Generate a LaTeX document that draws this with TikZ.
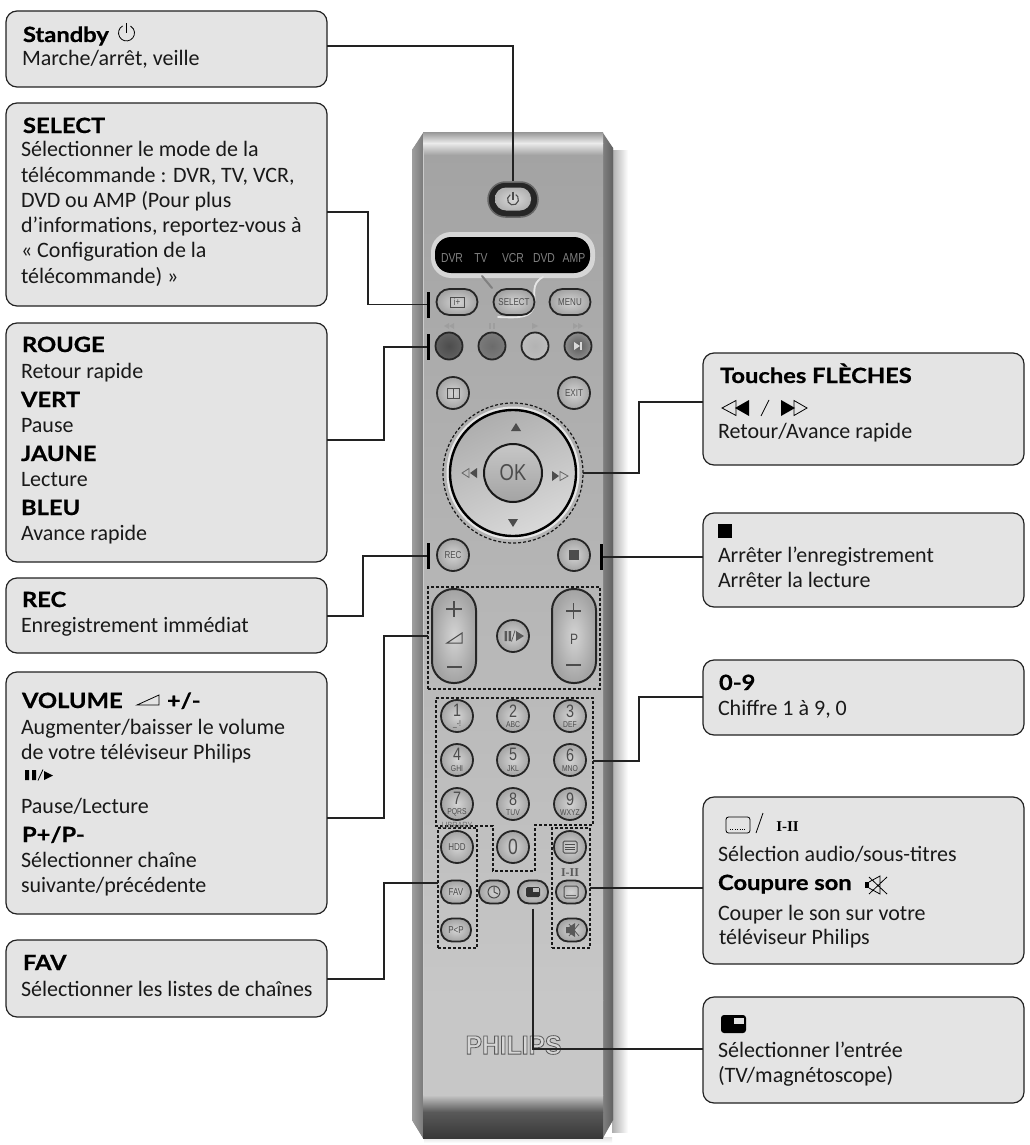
\documentclass[tikz,border=0pt]{standalone}
\usepackage{fontspec}
\setmainfont{Carlito}
\newfontfamily\hdf[FakeStretch=1.13,BoldFeatures={FakeStretch=1.13,FakeBold=0.7}]{Lato}
\newfontfamily\btnf[FakeStretch=0.8]{Liberation Sans}
\newfontfamily\brandf[FakeStretch=0.93]{Liberation Sans}
\newfontfamily\serf{Liberation Serif}
\definecolor{linecol}{HTML}{222222}
\definecolor{boxfill}{HTML}{E4E4E4}
\definecolor{btntx}{HTML}{4C4C4C}
\tikzset{
  callout/.style={draw=linecol,fill=boxfill,line width=1.2pt,rounded corners=11pt,inner sep=0pt,outer sep=0pt},
  tx/.style={anchor=base west,inner sep=0pt,outer sep=0pt,text=black!90,font=\fontsize{22}{24}\selectfont},
  hd/.style={anchor=base west,inner sep=0pt,outer sep=0pt,text=black,font=\hdf\bfseries\fontsize{21}{24}\selectfont},
  conn/.style={draw=linecol,line width=1.3pt},
  tickbar/.style={fill=black,inner sep=0pt,outer sep=0pt,minimum width=3pt,minimum height=26pt},
  grp/.style={draw=black!90,line width=1.2pt,dash pattern=on 3pt off 2pt,inner sep=0pt,outer sep=0pt},
  keybase/.style={draw=black!85,line width=1.8pt,inner sep=0pt,outer sep=0pt,align=center,text=btntx,inner color=black!17,outer color=black!36,font=\btnf\fontsize{10}{10}\selectfont},
  rbtn/.style={keybase,circle,minimum size=32pt},
  cbtn/.style={keybase,circle,minimum size=27pt},
  sbtn/.style={keybase,rectangle,rounded corners=13pt,minimum width=41pt,minimum height=26pt},
  obtn/.style={keybase,rectangle,rounded corners=11pt,minimum width=30pt,minimum height=23pt},
  pill/.style={keybase,rectangle,rounded corners=21.5pt,minimum width=44pt,minimum height=94pt,line width=2pt},
  ico/.style={draw=black,line width=0.8pt},
  kico/.style={draw=btntx,line width=1pt},
  disptx/.style={text=black!50,font=\btnf\fontsize{13}{13}\selectfont,inner sep=0pt},
  toptx/.style={text=white!62!black,font=\btnf\fontsize{9}{9}\selectfont,inner sep=0pt},
}
\newcommand\cbox[5]{\node[callout,minimum width={(#4-#2)*1pt},minimum height={(#5-#3)*1pt}] (#1) at ({(#2+#4)/2},{(#3+#5)/2}) {};}
\newcommand\Tx[4]{\node[tx] (#1) at (#2,#3) {#4};}
\newcommand\Hd[4]{\node[hd] (#1) at (#2,#3) {#4};}
\newcommand\dg[2]{{\fontsize{18}{13}\selectfont #1}\\[0.5pt]{\fontsize{8.5}{7}\selectfont #2}}
\begin{document}
\begin{tikzpicture}[x=1pt,y=-1pt]
\useasboundingbox (0,0) rectangle (1029,1145);
\fill[white] (0,0) rectangle (1029,1145);

% ---------- remote body
\shade[left color=black!32,right color=white] (612,150) rectangle (628,1132);
\shade[top color=black!12,bottom color=white] (424,1137) rectangle (612,1143);
\fill[black!45] (424,133) -- (601,133) -- (613,148) -- (613,1120) -- (602,1138) -- (423,1138) -- (412,1120) -- (412,150) -- cycle;
\shade[left color=black!38,right color=black!52] (412,150) -- (423,133) -- (423,1138) -- (412,1120) -- cycle;
\shade[left color=black!50,right color=black!62] (603,133) -- (613,148) -- (613,1120) -- (603,1138) -- cycle;
\shade[top color=black!36,bottom color=black!22] (423,155) rectangle (603,1000);
\shade[top color=black!22,bottom color=black!22] (423,1000) rectangle (603,1095);
\shade[top color=black!38,bottom color=black!8] (423,133) rectangle (603,143);
\shade[top color=black!8,bottom color=black!36] (423,143) rectangle (603,155);
\shade[top color=black!22,bottom color=black!65] (423,1095) rectangle (603,1112);
\shade[top color=black!65,bottom color=black!78] (423,1112) rectangle (603,1138);
\draw[white!80!black,line width=0.8pt] (423,150) -- (423,1095);

% ---------- display and power
\node[rectangle,rounded corners=17.5pt,fill=black!85,draw=black!60,line width=1.5pt,minimum width=50pt,minimum height=35pt,inner sep=0pt] (btnPower) at (513,199.5) {};
\node[keybase,draw=none,rectangle,rounded corners=11pt,inner color=black!15,outer color=black!30,minimum width=36pt,minimum height=23pt] (btnPowerTop) at (513,199) {};
\draw[kico,line width=1.1pt] (510.25,194.7) arc[start angle=120,end angle=420,radius=5.5pt];
\draw[kico,line width=1.1pt] (513,191.5) -- (513,199.5);

\fill[black!16] (431,232) [rounded corners=20pt] rectangle (595,278);
\draw[white!90!black,line width=1.8pt,line cap=round] (543,277) .. controls (530,284) and (536,295) .. (534,305) .. controls (532,318) and (520,318) .. (498,317);
\draw[black!50,line width=2pt,line cap=round] (482,276) -- (492,288);
\node[rectangle,rounded corners=16pt,fill=black,minimum width=155pt,minimum height=36pt,inner sep=0pt] (disp) at (512.5,255) {};
\node[disptx] (dDVR) at (452,258) {DVR};
\node[disptx] (dTV) at (481,258) {TV};
\node[disptx] (dVCR) at (513,258) {VCR};
\node[disptx] (dDVD) at (544,258) {DVD};
\node[disptx] (dAMP) at (574,258) {AMP};

\node[sbtn] (btnInfo) at (457,302) {i+};
\draw[kico] (450,297) rectangle (464,307);
\node[sbtn] (btnSelect) at (514,302) {SELECT};
\node[sbtn] (btnMenu) at (570,302) {MENU};

% ---------- coloured keys
\node[toptx] (tRew) at (449,326) {\tikz[x=1pt,y=-1pt]{\fill (0,0) -- (5,-3) -- (5,3) -- cycle; \fill (5,0) -- (10,-3) -- (10,3) -- cycle;}};
\node[toptx] (tPause) at (492,326) {\tikz[x=1pt,y=-1pt]{\fill (0,-3) rectangle (2,3); \fill (4,-3) rectangle (6,3);}};
\node[toptx] (tPlay) at (535,326) {\tikz[x=1pt,y=-1pt]{\fill (0,-3) -- (6,0) -- (0,3) -- cycle;}};
\node[toptx] (tFwd) at (578,326) {\tikz[x=1pt,y=-1pt]{\fill (0,-3) -- (5,0) -- (0,3) -- cycle; \fill (5,-3) -- (10,0) -- (5,3) -- cycle;}};
\node[cbtn,inner color=black!70,outer color=black!62] (btnRed) at (449,346) {};
\node[cbtn,inner color=black!58,outer color=black!52] (btnGreen) at (492,346) {};
\node[cbtn,inner color=black!30,outer color=black!26] (btnYellow) at (535,346) {};
\node[cbtn,inner color=black!64,outer color=black!45] (btnBlue) at (578,346) {};
\fill[white!85!black] (574,342) -- (580,346) -- (574,350) -- cycle;
\fill[white!85!black] (580,342) rectangle (582,350);

\node[rbtn] (btnGuide) at (453,393) {};
\draw[kico] (447,388) rectangle (459,398);
\draw[kico] (453,388) -- (453,398);
\node[rbtn] (btnExit) at (574,393) {EXIT};

% ---------- navigation pad
\node[circle,grp,minimum size=140pt] (pad) at (513,473) {};
\node[circle,fill=black!10,minimum size=133pt,inner sep=0pt] (padRim) at (513,473) {};
\node[circle,draw=black,line width=2.4pt,minimum size=126pt,inner sep=0pt,top color=black!32,bottom color=black!15,shading angle=25] (padDisc) at (513,473) {};
\node[circle,draw=black!90,line width=2pt,minimum size=58pt,inner sep=0pt,top color=black!22,bottom color=black!36,text=black!70,font=\btnf\fontsize{23}{23}\selectfont] (btnOK) at (513,473) {OK};
\fill[black!70] (516,423) -- (521,431) -- (511,431) -- cycle;
\fill[black!70] (513,527) -- (508,519) -- (518,519) -- cycle;
\fill[black!70] (470,473) -- (477,468) -- (477,478) -- cycle;
\draw[black!60,line width=0.8pt] (462,473) -- (469,468.5) -- (469,477.5) -- cycle;
\fill[black!70] (552,471) -- (552,481) -- (559,476) -- cycle;
\draw[black!60,line width=0.8pt] (560,471.5) -- (560,480.5) -- (568,476) -- cycle;

\node[rbtn] (btnRec) at (453,555) {REC};
\node[rbtn] (btnStop) at (574,555) {};
\fill[black!70] (569,550) rectangle (579,560);

% ---------- volume / programme
\node[grp,rectangle,minimum width=172pt,minimum height=102pt] (gVol) at (514,638) {};
\node[pill] (btnVol) at (454,636) {};
\node[pill] (btnProg) at (574,636) {};
\draw[kico,line width=1.5pt] (446,609) -- (462,609) (454,601) -- (454,617);
\draw[kico,line width=1.5pt] (447,667) -- (462,667);
\draw[kico] (447,643) -- (462,633) -- (462,643) -- cycle;
\draw[kico,line width=1.5pt] (566,611) -- (581,611) (573.5,603) -- (573.5,619);
\draw[kico,line width=1.5pt] (566,665) -- (581,665);
\node[text=btntx,inner sep=0pt,font=\btnf\fontsize{15}{15}\selectfont] (tP) at (574,639) {P};
\node[rbtn] (btnPause) at (513,636) {};
\fill[black!65] (504.5,631) rectangle (507,641) (508.5,631) rectangle (511,641);
\draw[black!65,line width=0.8pt] (511.5,641.5) -- (515,630.5);
\fill[black!65] (516,631) -- (524,636) -- (516,641) -- cycle;

% ---------- digits
\draw[grp] (436,698) -- (593,698) -- (593,825) -- (535,825) -- (535,871) -- (493,871) -- (493,826) -- (436,826) -- cycle;
\coordinate (cDig) at (593,761);
\node[rbtn] (k1) at (457,716) {\dg{1}{\_-!}};
\node[rbtn] (k2) at (513,716) {\dg{2}{ABC}};
\node[rbtn] (k3) at (570,716) {\dg{3}{DEF}};
\node[rbtn] (k4) at (457,760) {\dg{4}{GHI}};
\node[rbtn] (k5) at (513,760) {\dg{5}{JKL}};
\node[rbtn] (k6) at (570,760) {\dg{6}{MNO}};
\node[rbtn] (k7) at (457,804) {\dg{7}{PQRS}};
\node[rbtn] (k8) at (513,804) {\dg{8}{TUV}};
\node[rbtn] (k9) at (570,804) {\dg{9}{WXYZ}};
\node[rbtn,font=\btnf\fontsize{22}{22}\selectfont] (k0) at (513,847) {0};

% ---------- lower keys
\node[grp,rectangle,minimum width=39pt,minimum height=120pt] (gFav) at (457.5,888) {};
\node[grp,rectangle,minimum width=38pt,minimum height=120pt] (gAudio) at (571,888) {};
\node[text=black!55,inner sep=0pt,font=\btnf\fontsize{9}{9}\selectfont] (tLib) at (457,825) {LIBRARY};
\node[rbtn] (btnHdd) at (457,847) {HDD};
\node[rbtn] (btnText) at (570,847) {};
\draw[kico,rounded corners=1.5pt] (563,841) rectangle (577,853);
\draw[kico,line width=0.8pt] (565,844.5) -- (575,844.5) (565,847) -- (575,847) (565,849.5) -- (575,849.5);
\node[obtn] (btnFav) at (456,892) {FAV};
\node[obtn] (btnClock) at (494,892) {};
\draw[kico] (494,892) circle[radius=6pt];
\draw[kico] (494,886) -- (494,892) -- (498,894);
\node[obtn] (btnPip) at (533,892) {};
\fill[black!80,rounded corners=1.5pt] (526,887) rectangle (540,897);
\fill[black!25] (533,888) rectangle (539,892);
\node[text=black!65,inner sep=0pt,font=\serf\bfseries\fontsize{12}{12}\selectfont] (tDual) at (570,873) {I-II};
\node[obtn] (btnSub) at (571,892) {};
\draw[kico,rounded corners=1.5pt] (564,886) rectangle (578,898);
\fill[black!60] (566,895) rectangle (576,896);
\node[obtn] (btnPP) at (456,930) {P<P};
\node[obtn] (btnMute) at (572,930) {};
\fill[black!65] (566,927) rectangle (569,933) (569,927) -- (575,923) -- (575,937) -- (569,933) -- cycle;
\draw[black!65,line width=0.8pt] (569,924) -- (579,936) (579,924) -- (569,936);

% ---------- brand
\node[inner sep=0pt,text=black!20,font=\brandf\bfseries\fontsize{26.5}{26.5}\selectfont] (brand) at (513.5,1045) {\special{pdf:code q 2 Tr 0.8 w 0.35 G 0.84 g}PHILIPS\special{pdf:code Q}};

% ---------- tick bars
\node[tickbar] (barInfo) at (428,304.5) {};
\node[tickbar] (barRed) at (428,347) {};
\node[tickbar] (barRec) at (428,556) {};
\node[tickbar] (barStop) at (601,557) {};

% ---------- callout boxes
\cbox{bStandby}{6}{11}{327}{87}
\cbox{bSelect}{6}{103}{327}{306}
\cbox{bColours}{6}{323}{327}{562}
\cbox{bRec}{6}{578}{327}{653}
\cbox{bVolume}{6}{672}{327}{914}
\cbox{bFav}{6}{940}{327}{1017}
\cbox{bArrows}{703}{353}{1024}{465}
\cbox{bStop}{703}{513}{1024}{607}
\cbox{bDigits}{703}{660}{1024}{735}
\cbox{bAudio}{703}{797}{1024}{964}
\cbox{bInput}{703}{997}{1024}{1103}

% ---------- connectors
\draw[conn] (btnPower.north) |- (bStandby.east|-0,46);
\draw[conn] (bSelect.east|-0,212) -- (368,212) |- (barInfo.west);
\draw[conn] (bColours.east|-0,440) -- (384,440) |- (barRed.west);
\draw[conn] (bRec.east|-0,616) -- (363,616) |- (barRec.west);
\draw[conn] (bVolume.east|-0,818) -- (384,818) |- (gVol.west|-0,636);
\draw[conn] (bFav.east|-0,979) -- (384,979) |- (gFav.west|-0,883);
\draw[conn] (pad.east) -- (639,473) |- (bArrows.west|-0,402);
\draw[conn] (barStop.east) -- (bStop.west|-barStop.east);
\draw[conn] (cDig) -- (639,761) |- (bDigits.west|-0,697);
\draw[conn] (gAudio.east|-0,888) -- (bAudio.west|-0,888);
\draw[conn] ([yshift=-5pt]btnPip.south) |- (bInput.west|-0,1049);

% ---------- texts, left column
\Hd{t1a}{23}{42}{Standby}
\draw[ico] (122.5,26) arc[start angle=120,end angle=420,radius=8pt];
\draw[ico] (126.5,23) -- (126.5,33);
\Tx{t1b}{22}{66}{Marche/arrêt, veille}

\Hd{t2a}{23}{133}{SELECT}
\Tx{t2b}{21}{157}{Sélectionner le mode de la}
\Tx{t2c}{21}{182}{télécommande : DVR, TV, VCR,}
\Tx{t2d}{21}{207}{DVD ou AMP (Pour plus}
\Tx{t2e}{21}{232}{d’informations, reportez-vous à}
\Tx{t2f}{21}{257}{« Configuration de la}
\Tx{t2g}{21}{283}{télécommande) »}

\Hd{t3a}{22}{352}{ROUGE}
\Tx{t3b}{21}{378}{Retour rapide}
\Hd{t3c}{21}{407}{VERT}
\Tx{t3d}{21}{432}{Pause}
\Hd{t3e}{21}{461}{JAUNE}
\Tx{t3f}{21}{486}{Lecture}
\Hd{t3g}{21}{515}{BLEU}
\Tx{t3h}{21}{540}{Avance rapide}

\Hd{t4a}{22}{607}{REC}
\Tx{t4b}{21}{632}{Enregistrement immédiat}

\Hd{t5a}{22}{708}{VOLUME}
\draw[ico] (137,705) -- (159,695) -- (159,705) -- cycle;
\Hd{t5b}{167}{708}{+/-}
\Tx{t5c}{21}{734}{Augmenter/baisser le volume}
\Tx{t5d}{21}{759}{de votre téléviseur Philips}
\fill[black] (25,770) rectangle (29,780) (32,770) rectangle (36,780);
\draw[black,line width=0.8pt] (38,780.5) -- (43,769.5);
\fill[black] (44,771) -- (53,775.5) -- (44,780) -- cycle;
\Tx{t5e}{21}{813}{Pause/Lecture}
\Hd{t5f}{22}{842}{P+/P-}
\Tx{t5g}{21}{867}{Sélectionner chaîne}
\Tx{t5h}{21}{892}{suivante/précédente}

\Hd{t6a}{23}{970}{FAV}
\Tx{t6b}{21}{996}{Sélectionner les listes de chaînes}

% ---------- texts, right column
\Hd{t7a}{720}{383}{Touches FLÈCHES}
\draw[ico] (722,408) -- (736,400.5) -- (736,415.5) -- cycle;
\fill[black] (735,408) -- (749,400) -- (749,416) -- cycle;
\draw[ico] (761,416) -- (769,400);
\fill[black] (781,400) -- (781,416) -- (795,408) -- cycle;
\draw[ico] (794,400.5) -- (794,415.5) -- (807,408) -- cycle;
\Tx{t7b}{718}{438}{Retour/Avance rapide}

\fill[black] (718,524) rectangle (732,538);
\Tx{t8a}{718}{562}{Arrêter l’enregistrement}
\Tx{t8b}{718}{587}{Arrêter la lecture}

\Hd{t9a}{719}{690}{0-9}
\Tx{t9b}{718}{715}{Chiffre 1 à 9, 0}

\draw[ico,rounded corners=2.5pt] (726,817) rectangle (750,833);
\draw[black,line width=1pt,dash pattern=on 1pt off 1.4pt] (730,829.5) -- (746,829.5);
\draw[ico] (756,833) -- (763,813);
\node[inner sep=0pt,text=black,font=\serf\bfseries\fontsize{15}{15}\selectfont] (t10i) at (787.5,827) {I-II};
\Tx{t10a}{718}{861}{Sélection audio/sous-titres}
\Hd{t10b}{718}{890}{Coupure son}
\fill[black] (865,882) rectangle (869,888);
\draw[ico] (869,882) -- (880,876) -- (880,894) -- (869,888) (869,877) -- (887,894) (887,877) -- (869,894);
\Tx{t10c}{718}{920}{Couper le son sur votre}
\Tx{t10d}{719}{944}{téléviseur Philips}

\fill[black,rounded corners=3pt] (721,1015) rectangle (746,1033);
\fill[white!88!black] (734,1018) rectangle (744,1024);
\Tx{t11a}{718}{1057}{Sélectionner l’entrée}
\Tx{t11b}{718}{1082}{(TV/magnétoscope)}
\end{tikzpicture}
\end{document}
